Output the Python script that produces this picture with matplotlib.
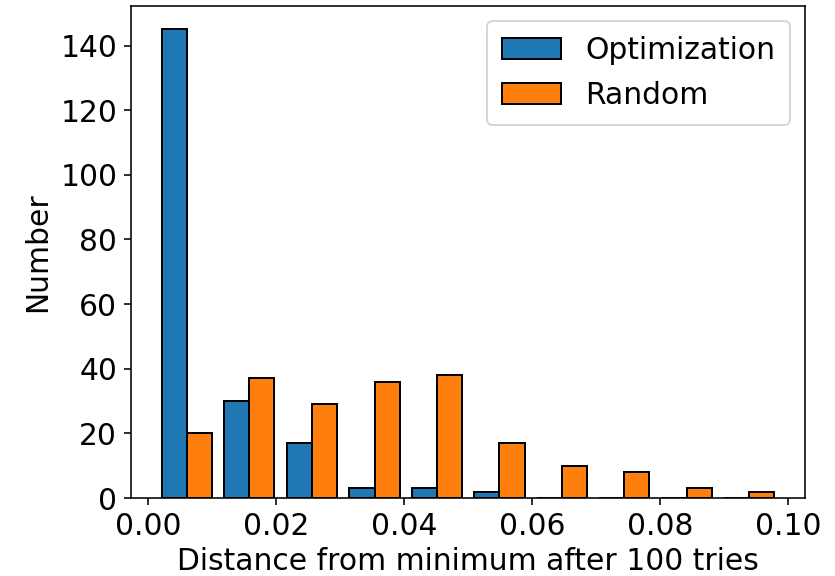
import numpy as np
import matplotlib
matplotlib.use("Agg")
import matplotlib.pyplot as plt

# Histogram bin edges (distance from minimum)
bin_edges = [0.0012, 0.0110, 0.0207, 0.0305, 0.0403, 0.0500,
             0.0598, 0.0695, 0.0793, 0.0890, 0.0988]
# Counts per bin
optimization_counts = [145, 30, 17, 3, 3, 2, 0, 0, 0, 0]
random_counts = [20, 37, 29, 36, 38, 17, 10, 8, 3, 2]
series_labels = ["Optimization", "Random"]

centers = [(a + b) / 2 for a, b in zip(bin_edges[:-1], bin_edges[1:])]

dpi = 143
fig, ax = plt.subplots(figsize=(835 / dpi, 576 / dpi), dpi=dpi)
fig.subplots_adjust(left=0.157, right=0.964, top=0.9896, bottom=0.1354)

ax.hist([centers, centers], bins=bin_edges,
        weights=[optimization_counts, random_counts],
        edgecolor="black", label=series_labels)

ax.set_xlabel("Distance from minimum after 100 tries", fontsize=15,
              labelpad=3)
ax.set_ylabel("Number", fontsize=15)
ax.tick_params(labelsize=15)
ax.legend(fontsize=15, borderpad=0.5, labelspacing=0.55)

fig.savefig("out.png", dpi=dpi)
